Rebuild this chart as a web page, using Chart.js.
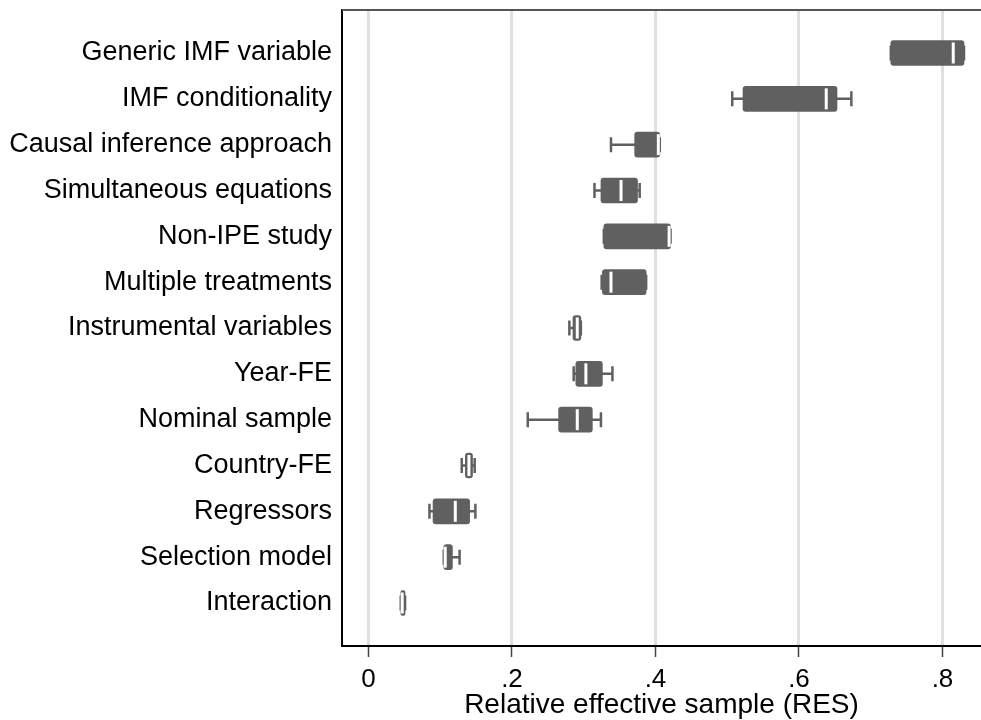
<!DOCTYPE html>
<html>
<head>
<meta charset="utf-8">
<script src="https://cdn.jsdelivr.net/npm/chart.js@4"></script>
<style>
  body { margin: 0; background: #fff; }
  #wrap { width: 981px; height: 720px; }
</style>
</head>
<body>
<div id="wrap"><canvas id="chart"></canvas></div>
<script>
// --- datos del gráfico ---
const categories = [
    'Generic IMF variable', 'IMF conditionality', 'Causal inference approach',
    'Simultaneous equations', 'Non-IPE study', 'Multiple treatments',
    'Instrumental variables', 'Year-FE', 'Nominal sample', 'Country-FE',
    'Regressors', 'Selection model', 'Interaction'
];
const whiskerLow  = [0.728, 0.507, 0.338, 0.315, 0.328, 0.325, 0.280, 0.286, 0.222, 0.130, 0.085, 0.105, 0.045];
const q1          = [0.728, 0.522, 0.371, 0.324, 0.328, 0.326, 0.285, 0.289, 0.265, 0.135, 0.090, 0.105, 0.045];
const medians     = [0.815, 0.638, 0.404, 0.352, 0.419, 0.338, 0.291, 0.303, 0.291, 0.140, 0.121, 0.107, 0.047];
const q3          = [0.830, 0.653, 0.406, 0.375, 0.421, 0.387, 0.296, 0.326, 0.312, 0.145, 0.141, 0.117, 0.051];
const whiskerHigh = [0.830, 0.673, 0.406, 0.378, 0.421, 0.387, 0.296, 0.340, 0.324, 0.148, 0.149, 0.127, 0.051];
const xTickValues = [0, 0.2, 0.4, 0.6, 0.8];
const xTickLabels = ['0', '.2', '.4', '.6', '.8'];

const boxColor = '#606060';
const fontFamily = '"Liberation Sans", Arial, sans-serif';

// bigotes (antes de las cajas) y medianas (después)
const boxPlotPlugin = {
    id: 'boxPlot',
    beforeDatasetsDraw(chart) {
        const { ctx, scales: { x, y } } = chart;
        ctx.save();
        ctx.strokeStyle = boxColor;
        ctx.lineWidth = 2.5;
        categories.forEach((c, i) => {
            const py = y.getPixelForValue(i);
            const a = x.getPixelForValue(whiskerLow[i]);
            const b = x.getPixelForValue(whiskerHigh[i]);
            ctx.beginPath();
            ctx.moveTo(a, py); ctx.lineTo(b, py);
            ctx.moveTo(a, py - 7.5); ctx.lineTo(a, py + 7.5);
            ctx.moveTo(b, py - 7.5); ctx.lineTo(b, py + 7.5);
            ctx.stroke();
        });
        ctx.restore();
    },
    afterDatasetsDraw(chart) {
        const { ctx, scales: { x, y } } = chart;
        ctx.save();
        ctx.strokeStyle = '#ffffff';
        ctx.lineWidth = 3;
        categories.forEach((c, i) => {
            const py = y.getPixelForValue(i);
            const m = x.getPixelForValue(medians[i]);
            ctx.beginPath();
            ctx.moveTo(m, py - 10.5); ctx.lineTo(m, py + 10.5);
            ctx.stroke();
        });
        ctx.restore();
    },
    afterDraw(chart) {
        // borde superior del área del gráfico
        const { ctx, chartArea } = chart;
        ctx.save();
        ctx.strokeStyle = '#555555';
        ctx.lineWidth = 2;
        ctx.beginPath();
        ctx.moveTo(chartArea.left, chartArea.top);
        ctx.lineTo(chartArea.right, chartArea.top);
        ctx.stroke();
        ctx.restore();
    }
};

new Chart(document.getElementById('chart'), {
    type: 'bar',
    data: {
        datasets: [{
            data: categories.map((c, i) => ({ x: [q1[i], q3[i]], y: i })),
            backgroundColor: boxColor,
            borderRadius: 3,
            borderSkipped: false,
            barThickness: 25
        }]
    },
    options: {
        indexAxis: 'y',
        responsive: true,
        maintainAspectRatio: false,
        animation: false,
        layout: { padding: { top: 10, right: 0, bottom: 0, left: 0 } },
        plugins: {
            legend: { display: false },
            tooltip: { enabled: false }
        },
        scales: {
            x: {
                type: 'linear',
                min: -0.0369,
                max: 0.8537,
                afterBuildTicks: axis => { axis.ticks = xTickValues.map(v => ({ value: v })); },
                afterFit: axis => { axis.height = 74; },
                grid: {
                    color: '#e0e0e0',
                    lineWidth: 3,
                    tickColor: '#444444',
                    tickLength: 11,
                    tickWidth: 1.5
                },
                border: { color: '#000000', width: 2 },
                ticks: {
                    color: '#000000',
                    font: { family: fontFamily, size: 26 },
                    padding: 7,
                    maxRotation: 0,
                    callback: (v, idx) => xTickLabels[idx]
                },
                title: {
                    display: true,
                    text: 'Relative effective sample (RES)',
                    color: '#000000',
                    font: { family: fontFamily, size: 28, lineHeight: 1.0 },
                    padding: { top: 0, bottom: 1 }
                }
            },
            y: {
                type: 'linear',
                reverse: true,
                offset: false,
                min: -0.938,
                max: 12.938,
                afterBuildTicks: axis => { axis.ticks = categories.map((c, i) => ({ value: i })); },
                afterFit: axis => {
                    axis.width = 342;
                    axis.paddingTop = 0;
                    axis.paddingBottom = 0;
                },
                grid: { display: true, offset: false, drawOnChartArea: false, drawTicks: false },
                border: { color: '#000000', width: 2 },
                ticks: {
                    color: '#000000',
                    font: { family: fontFamily, size: 27 },
                    padding: 10,
                    autoSkip: false,
                    callback: v => categories[v]
                }
            }
        }
    },
    plugins: [boxPlotPlugin]
});
</script>
</body>
</html>
